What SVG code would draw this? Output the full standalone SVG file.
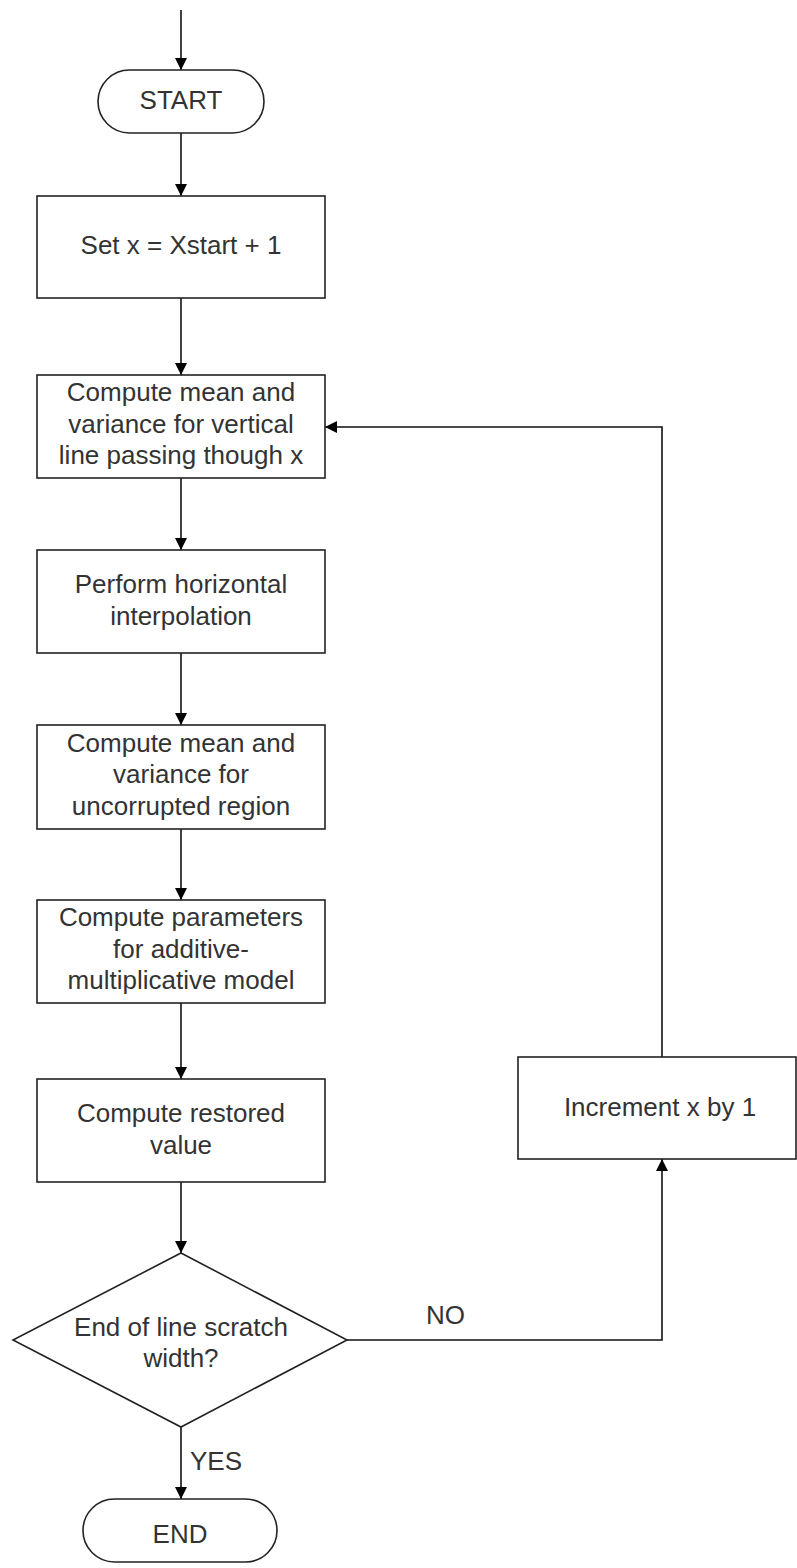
<svg xmlns="http://www.w3.org/2000/svg" width="797" height="1568" viewBox="0 0 797 1568">
<defs>
<marker id="arr" viewBox="0 0 12 12" refX="12" refY="6" markerWidth="12" markerHeight="12" markerUnits="userSpaceOnUse" orient="auto">
<path d="M0,0 L12,6 L0,12 Z" fill="#000"/>
</marker>
<style>
.shape{fill:#fff;stroke:#222;stroke-width:1.6}
.t{font-family:"Liberation Sans",Arial,sans-serif;font-size:26px;fill:#333;text-anchor:middle}
.lbl{font-family:"Liberation Sans",Arial,sans-serif;font-size:26px;fill:#333}
.c{fill:none;stroke:#111;stroke-width:1.6}
</style>
</defs>
<rect width="797" height="1568" fill="#fff"/>
<g id="connectors">
<line class="c" x1="181" y1="10" x2="181" y2="70" marker-end="url(#arr)"/>
<line class="c" x1="181" y1="133" x2="181" y2="196" marker-end="url(#arr)"/>
<line class="c" x1="181" y1="298" x2="181" y2="375" marker-end="url(#arr)"/>
<line class="c" x1="181" y1="478" x2="181" y2="550" marker-end="url(#arr)"/>
<line class="c" x1="181" y1="653" x2="181" y2="725" marker-end="url(#arr)"/>
<line class="c" x1="181" y1="829" x2="181" y2="900" marker-end="url(#arr)"/>
<line class="c" x1="181" y1="1003" x2="181" y2="1079" marker-end="url(#arr)"/>
<line class="c" x1="181" y1="1182" x2="181" y2="1253" marker-end="url(#arr)"/>
<line class="c" x1="181" y1="1427" x2="181" y2="1499" marker-end="url(#arr)"/>
<polyline class="c" points="347,1340 662,1340 662,1159" marker-end="url(#arr)"/>
<polyline class="c" points="662,1057 662,427 325,427" marker-end="url(#arr)"/>
<text class="lbl" x="426" y="1324">NO</text>
<text class="lbl" x="190" y="1470">YES</text>
</g>
<g id="start">
<rect class="shape" x="98" y="70" width="166" height="63" rx="31.5" ry="31.5"/>
<text class="t" x="181" y="109">START</text>
</g>
<g id="set-x">
<rect class="shape" x="37" y="196" width="288" height="102"/>
<text class="t" x="181" y="254">Set x = Xstart + 1</text>
</g>
<g id="vertical-stats">
<rect class="shape" x="37" y="375" width="288" height="103"/>
<text class="t" x="181" y="401">Compute mean and</text>
<text class="t" x="181" y="433">variance for vertical</text>
<text class="t" x="181" y="464">line passing though x</text>
</g>
<g id="interpolation">
<rect class="shape" x="37" y="550" width="288" height="103"/>
<text class="t" x="181" y="593">Perform horizontal</text>
<text class="t" x="181" y="625">interpolation</text>
</g>
<g id="uncorrupted-stats">
<rect class="shape" x="37" y="725" width="288" height="104"/>
<text class="t" x="181" y="752">Compute mean and</text>
<text class="t" x="181" y="783">variance for</text>
<text class="t" x="181" y="815">uncorrupted region</text>
</g>
<g id="parameters">
<rect class="shape" x="37" y="900" width="288" height="103"/>
<text class="t" x="181" y="926">Compute parameters</text>
<text class="t" x="181" y="958">for additive-</text>
<text class="t" x="181" y="989">multiplicative model</text>
</g>
<g id="restored">
<rect class="shape" x="37" y="1079" width="288" height="103"/>
<text class="t" x="181" y="1122">Compute restored</text>
<text class="t" x="181" y="1154">value</text>
</g>
<g id="decision">
<polygon class="shape" points="181,1253 347,1340 181,1427 13,1340"/>
<text class="t" x="181" y="1336">End of line scratch</text>
<text class="t" x="181" y="1367">width?</text>
</g>
<g id="increment">
<rect class="shape" x="518" y="1057" width="278" height="102"/>
<text class="t" x="660" y="1116">Increment x by 1</text>
</g>
<g id="end">
<rect class="shape" x="83" y="1499" width="194" height="63" rx="31.5" ry="31.5"/>
<text class="t" x="180" y="1543">END</text>
</g>
</svg>
